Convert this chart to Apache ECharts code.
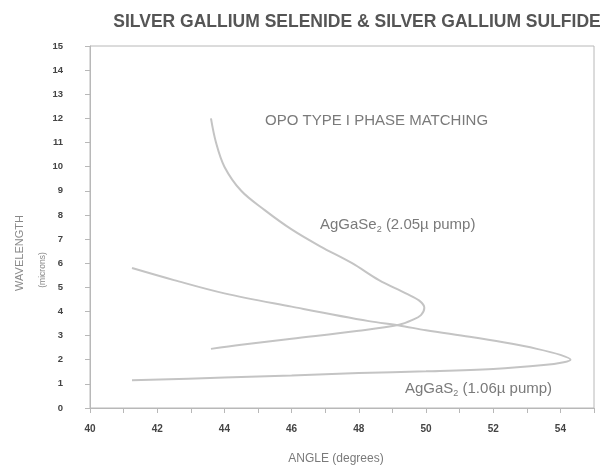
<!DOCTYPE html>
<html><head><meta charset="utf-8">
<script src="https://cdn.jsdelivr.net/npm/echarts@6/dist/echarts.min.js"></script>
<style>html,body{margin:0;padding:0;background:#fff}#c{width:605px;height:466px}</style>
</head><body><div id="c"></div>
<script>
// AgGaSe2 (2.05µ pump) curve: angle (deg) vs wavelength (microns)
const seAngle = [43.6, 43.75, 44.0, 44.5, 45.2, 46.0, 46.85, 47.8, 48.6, 49.4, 49.8, 49.95, 49.85, 49.6, 49.2, 48.0, 46.0, 44.5, 43.6];
const seWave  = [12.0, 11.0, 10.0, 9.0, 8.2, 7.4, 6.7, 6.0, 5.3, 4.75, 4.45, 4.15, 3.85, 3.65, 3.45, 3.2, 2.87, 2.62, 2.45];
// AgGaS2 (1.06µ pump) curve
const sAngle = [41.25, 42.5, 44.0, 46.0, 48.3, 49.2, 50.0, 51.3, 52.3, 53.3, 54.0, 54.3, 54.1, 53.5, 52.0, 50.0, 48.0, 46.0, 44.0, 41.25];
const sWave  = [5.8, 5.3, 4.75, 4.2, 3.6, 3.42, 3.22, 2.95, 2.72, 2.45, 2.2, 2.0, 1.9, 1.78, 1.62, 1.52, 1.45, 1.35, 1.26, 1.15];

const xMin = 40, xMax = 55, yMin = 0, yMax = 15;

const pair = (a, b) => a.map((v, i) => [v, b[i]]);
const FONT = 'Liberation Sans, Arial, sans-serif';
const lineColor = '#c4c4c4';
const axisColor = '#b8b8b8';
const noteColor = '#7a7a7a';

const richNote = {
  a: {fontFamily: FONT, fontSize: 15, fill: noteColor, color: noteColor},
  s: {fontFamily: FONT, fontSize: 9, fill: noteColor, color: noteColor, padding: [10, 0, 0, 0]}
};

const chart = echarts.init(document.getElementById('c'), null, {renderer: 'canvas'});
chart.setOption({
  animation: false,
  backgroundColor: '#fff',
  title: {
    text: 'SILVER GALLIUM SELENIDE & SILVER GALLIUM SULFIDE',
    left: 352, top: 8, textAlign: 'center',
    textStyle: {fontFamily: FONT, fontSize: 17.5, fontWeight: 'bold', color: '#555'}
  },
  grid: {left: 90, right: 11, top: 46, bottom: 58, show: true, borderColor: axisColor, borderWidth: 1, backgroundColor: 'transparent'},
  xAxis: {
    type: 'value', min: xMin, max: xMax, interval: 1,
    axisLine: {show: true, lineStyle: {color: axisColor, width: 1}},
    axisTick: {show: true, length: 5, lineStyle: {color: axisColor}},
    splitLine: {show: false},
    axisLabel: {
      margin: 16, fontFamily: FONT, fontSize: 10, fontWeight: 'bold', color: '#444',
      formatter: v => (v % 2 === 0 && v < xMax) ? String(v) : ''
    }
  },
  yAxis: {
    type: 'value', min: yMin, max: yMax, interval: 1,
    axisLine: {show: true, lineStyle: {color: axisColor, width: 1}},
    axisTick: {show: true, length: 5, lineStyle: {color: axisColor}},
    splitLine: {show: false},
    axisLabel: {margin: 27, fontFamily: FONT, fontSize: 9.5, fontWeight: 'bold', color: '#444'}
  },
  series: [
    {type: 'line', data: pair(seAngle, seWave), smooth: 0.35, symbol: 'none',
     lineStyle: {color: lineColor, width: 2}},
    {type: 'line', data: pair(sAngle, sWave), smooth: 0.35, symbol: 'none',
     lineStyle: {color: lineColor, width: 2}}
  ],
  graphic: [
    {type: 'text', x: 265, y: 121, style: {text: 'OPO TYPE I PHASE MATCHING', font: '15px ' + FONT, fill: noteColor, verticalAlign: 'middle'}},
    {type: 'text', x: 320, y: 215, style: {text: '{a|AgGaSe}{s|2}{a| (2.05µ pump)}', fill: noteColor, rich: richNote}},
    {type: 'text', x: 405, y: 379, style: {text: '{a|AgGaS}{s|2}{a| (1.06µ pump)}', fill: noteColor, rich: richNote}},
    {type: 'text', x: 336, y: 459, style: {text: 'ANGLE (degrees)', font: '12px ' + FONT, fill: noteColor, align: 'center', verticalAlign: 'middle'}},
    {type: 'text', x: 20, y: 253, rotation: Math.PI / 2, style: {text: 'WAVELENGTH', font: '11px ' + FONT, fill: '#888', align: 'center', verticalAlign: 'middle'}},
    {type: 'text', x: 43, y: 270, rotation: Math.PI / 2, style: {text: '(microns)', font: '8.5px ' + FONT, fill: '#888', align: 'center', verticalAlign: 'middle'}}
  ]
});
</script></body></html>
